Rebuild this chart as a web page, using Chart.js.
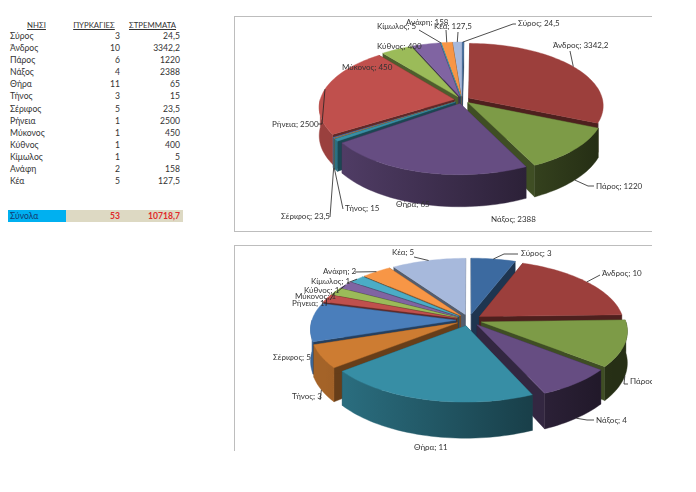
<!DOCTYPE html>
<html>
<head>
<meta charset="utf-8">
<script src="https://cdn.jsdelivr.net/npm/chart.js@4"></script>
<style>
  body { margin: 0; background: #fff; font-family: Lato, "Open Sans", sans-serif; color: #333; }
  #page { position: relative; width: 696px; height: 492px; overflow: hidden; }
  table { position: absolute; left: 8px; top: 20px; border-collapse: collapse; table-layout: fixed; width: 175px; font-size: 8.6px; }
  td, th { padding: 0 3px 0 2px; height: 12.08px; line-height: 12px; font-weight: normal; white-space: nowrap; }
  th { text-align: center; text-decoration: underline; height: 10px; line-height: 10px; font-size: 7.8px; }
  td.num { text-align: right; }
  tr.gap td { height: 11.6px; line-height: 11px; }
  tr.total td { background: #ddd9c3; color: #e02a2a; font-weight: bold; }
  tr.total td:first-child { background: #00b0f0; color: #123a70; font-weight: normal; }
  .frame { position: absolute; left: 234px; width: 418px; border: solid #bdbdbd; border-width: 1px 0 1px 1px; box-sizing: border-box; }
  .frame canvas { position: absolute; left: -1px; top: -1px; }
</style>
</head>
<body>
<div id="page">
  <table id="tbl"></table>
  <div class="frame" style="top:16px;height:216px"><canvas id="top" width="418" height="216"></canvas></div>
  <div class="frame" style="top:245px;height:206px;border-bottom:0"><canvas id="bottom" width="418" height="206"></canvas></div>
</div>
<script>
const islands = ["Σύρος", "Άνδρος", "Πάρος", "Νάξος", "Θήρα", "Τήνος", "Σέριφος", "Ρήνεια", "Μύκονος", "Κύθνος", "Κίμωλος", "Ανάφη", "Κέα"];
const fires = [3, 10, 6, 4, 11, 3, 5, 1, 1, 1, 1, 2, 5];
const stremmata = [24.5, 3342.2, 1220, 2388, 65, 15, 23.5, 2500, 450, 400, 5, 158, 127.5];
const totalFires = 53;
const totalStremmata = 10718.7;
const sliceColors = ["#3c6aa0", "#9c3f3c", "#7d9b47", "#664d82", "#378ea5", "#cd7c32", "#4a7ebb", "#c0504d", "#9bbb59", "#8064a2", "#4bacc6", "#f79646", "#a7b9dc"];

// label placement in canvas px: text left, text middle, then the leader's end points
const topLabels = [
  [284, 7, [[282, 8], [279, 8]]],
  [319, 29, [[336, 35]]],
  [362, 170, [[360, 170], [354, 170]]],
  [257, 203],
  [162, 188],
  [111, 192, [[109, 193]]],
  [47, 200, [[96, 201]]],
  [38, 108, [[84, 108], [88, 108]]],
  [108, 51],
  [143, 30],
  [143, 10, [[185, 14]]],
  [172, 6, [[212, 14]]],
  [200, 10, [[224, 16]]]
];
const bottomLabels = [
  [287, 8, [[284, 9], [270, 9]]],
  [368, 28, [[366, 30]]],
  [396, 136, [[394, 139], [390, 139]]],
  [362, 175, [[360, 175], [353, 175]]],
  [180, 202],
  [58, 151, [[86, 155]]],
  [39, 112],
  [58, 58, [[92, 61]]],
  [61, 51, [[96, 55]]],
  [70, 45, [[103, 47]]],
  [77, 36, [[113, 38]]],
  [89, 26, [[121, 27]]],
  [158, 7, [[180, 12]]]
];

const fmt = (v) => String(v).replace(".", ",");

function buildTable() {
  let html = "<colgroup><col style='width:58px'><col style='width:57px'><col style='width:60px'></colgroup>";
  html += "<tr><th>ΝΗΣΙ</th><th>ΠΥΡΚΑΓΙΕΣ</th><th>ΣΤΡΕΜΜΑΤΑ</th></tr>";
  islands.forEach((name, i) => {
    html += `<tr><td>${name}</td><td class="num">${fires[i]}</td><td class="num">${fmt(stremmata[i])}</td></tr>`;
  });
  html += "<tr class='gap'><td colspan=3></td></tr><tr class='gap'><td colspan=3></td></tr>";
  html += `<tr class="total"><td>Σύνολα</td><td class="num">${totalFires}</td><td class="num">${fmt(totalStremmata)}</td></tr>`;
  document.getElementById("tbl").innerHTML = html;
}

function shade(hex, f) {
  const n = parseInt(hex.slice(1), 16);
  const c = [n >> 16, (n >> 8) & 255, n & 255].map((x) => Math.round(x * f));
  return `rgb(${c[0]},${c[1]},${c[2]})`;
}

// draws the doughnut controller's arcs as a tilted pie with some perspective
const pie3d = {
  id: "pie3d",
  beforeDatasetsDraw(chart, args, opts) {
    const ctx = chart.ctx;
    const arcs = chart.getDatasetMeta(0).data;

    const projector = (arc) => {
      const mid = (arc.startAngle + arc.endAngle) / 2;
      const off = arc.options.offset;
      return (a, r, drop) => {
        const px = Math.cos(a) * r + Math.cos(mid) * off;
        const py = Math.sin(a) * r + Math.sin(mid) * off;
        const s = 1 / (1 - (opts.perspective * py) / arc.outerRadius);
        return [arc.x + px * s, arc.y + (py * opts.tilt + drop) * s];
      };
    };

    const poly = (pts, fill) => {
      ctx.beginPath();
      pts.forEach((p, i) => (i ? ctx.lineTo(p[0], p[1]) : ctx.moveTo(p[0], p[1])));
      ctx.closePath();
      ctx.fillStyle = fill;
      ctx.strokeStyle = fill;
      ctx.lineWidth = 0.4;
      ctx.fill();
      ctx.stroke();
    };

    const arcPts = (p, from, to, r, drop) => {
      const n = Math.max(2, Math.ceil(Math.abs(to - from) / 0.03));
      const pts = [];
      for (let i = 0; i <= n; i++) pts.push(p(from + ((to - from) * i) / n, r, drop));
      return pts;
    };

    const order = arcs.map((a, i) => i).sort((i, j) => {
      const m = (a) => Math.sin((a.startAngle + a.endAngle) / 2);
      return m(arcs[i]) - m(arcs[j]);
    });

    order.forEach((i) => {
      const arc = arcs[i];
      const p = projector(arc);
      const R = arc.outerRadius;
      const color = sliceColors[i];
      const d = opts.depth;

      // radial walls
      [arc.startAngle, arc.endAngle].forEach((a) => {
        poly([p(a, 0, 0), p(a, R, 0), p(a, R, d), p(a, 0, d)], shade(color, 0.5));
      });

      // outer wall, front part only
      const from = Math.max(arc.startAngle, opts.wallStart);
      const to = Math.min(arc.endAngle, Math.PI);
      if (to > from) {
        const grad = ctx.createLinearGradient(arc.x - R, 0, arc.x + R, 0);
        grad.addColorStop(0, shade(color, 0.8));
        grad.addColorStop(1, shade(color, 0.3));
        poly(arcPts(p, from, to, R, 0).concat(arcPts(p, to, from, R, d)), grad);
      }

      // top face
      poly([p(0, 0, 0)].concat(arcPts(p, arc.startAngle, arc.endAngle, R, 0)), color);
    });

    // labels and leaders
    ctx.font = "8px Lato, 'Open Sans', sans-serif";
    ctx.textBaseline = "middle";
    ctx.textAlign = "left";
    arcs.forEach((arc, i) => {
      const [x, y, leader] = opts.labels[i];
      if (leader) {
        const mid = (arc.startAngle + arc.endAngle) / 2;
        const drop = Math.sin(mid) > 0 ? opts.depth : 0;
        const s = projector(arc)(mid, arc.outerRadius, drop);
        ctx.beginPath();
        ctx.moveTo(s[0], s[1]);
        leader.slice().reverse().forEach((q) => ctx.lineTo(q[0], q[1]));
        ctx.strokeStyle = "#222";
        ctx.lineWidth = 0.8;
        ctx.stroke();
      }
      ctx.fillStyle = "#333";
      ctx.fillText(`${islands[i]}; ${fmt(chart.data.datasets[0].data[i])}`, x, y);
    });

    return false;
  },
};

function makePie(id, values, explode, radius, padding, settings) {
  return new Chart(document.getElementById(id), {
    type: "pie",
    data: {
      labels: islands,
      datasets: [{ data: values, backgroundColor: sliceColors, offset: explode, borderWidth: 0 }],
    },
    options: {
      responsive: false,
      animation: false,
      radius: radius,
      layout: { padding: padding },
      plugins: { legend: { display: false }, tooltip: { enabled: false }, pie3d: settings },
    },
    plugins: [pie3d],
  });
}

buildTable();
makePie("top", stremmata, 8, 134, { left: 38, bottom: 48 }, { tilt: 0.46, perspective: 0.12, depth: 28, wallStart: 0.4, labels: topLabels });
makePie("bottom", fires, 13, 144, { left: 52, bottom: 56 }, { tilt: 0.45, perspective: 0.13, depth: 31, wallStart: 0, labels: bottomLabels });
</script>
</body>
</html>
